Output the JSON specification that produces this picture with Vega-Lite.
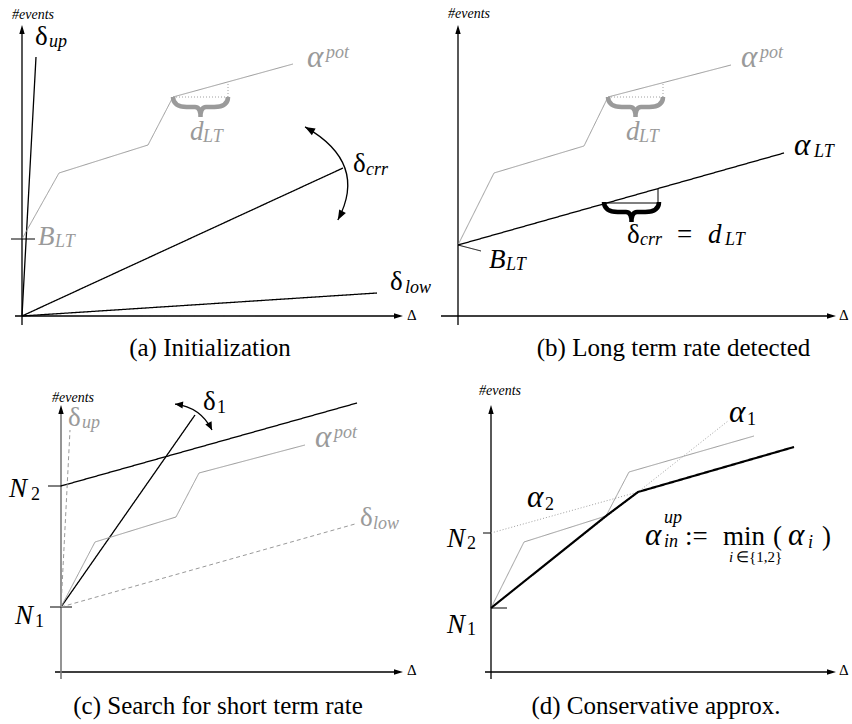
{
"$schema": "https://vega.github.io/schema/vega-lite/v6.json",
"background": "white",
"padding": 0,
"spacing": 0,
"columns": 2,
"bounds": "flush",
"config": {"view": {"stroke": null}, "concat": {"spacing": 0}, "text": {"font": "Liberation Serif"}, "point": {"opacity": 1}},
"datasets": {
"lines": [
{"p":"a","id":"xa","o":0,"x":-7,"y":0,"k":"k"},{"p":"a","id":"xa","o":1,"x":378,"y":0,"k":"k"},
{"p":"a","id":"ya","o":0,"x":0,"y":-9,"k":"k"},{"p":"a","id":"ya","o":1,"x":0,"y":288,"k":"k"},
{"p":"a","id":"up","o":0,"x":0,"y":0,"k":"k"},{"p":"a","id":"up","o":1,"x":14,"y":259,"k":"k"},
{"p":"a","id":"crr","o":0,"x":0,"y":0,"k":"k"},{"p":"a","id":"crr","o":1,"x":321,"y":148,"k":"k"},
{"p":"a","id":"low","o":0,"x":0,"y":0,"k":"k"},{"p":"a","id":"low","o":1,"x":355,"y":23,"k":"k"},
{"p":"a","id":"pot","o":0,"x":0,"y":77,"k":"g"},{"p":"a","id":"pot","o":1,"x":37,"y":143,"k":"g"},{"p":"a","id":"pot","o":2,"x":126,"y":171,"k":"g"},{"p":"a","id":"pot","o":3,"x":151,"y":219,"k":"g"},{"p":"a","id":"pot","o":4,"x":271,"y":252,"k":"g"},
{"p":"a","id":"blt","o":0,"x":-11,"y":77,"k":"ks"},{"p":"a","id":"blt","o":1,"x":13,"y":77,"k":"ks"},
{"p":"a","id":"dh","o":0,"x":151,"y":219,"k":"gt"},{"p":"a","id":"dh","o":1,"x":206,"y":219,"k":"gt"},
{"p":"a","id":"dv","o":0,"x":206,"y":219,"k":"gt"},{"p":"a","id":"dv","o":1,"x":206,"y":234,"k":"gt"},

{"p":"b","id":"xb","o":0,"x":-17,"y":0,"k":"k"},{"p":"b","id":"xb","o":1,"x":375,"y":0,"k":"k"},
{"p":"b","id":"yb","o":0,"x":0,"y":-9,"k":"k"},{"p":"b","id":"yb","o":1,"x":0,"y":288,"k":"k"},
{"p":"b","id":"pot","o":0,"x":0,"y":71,"k":"g"},{"p":"b","id":"pot","o":1,"x":36,"y":143,"k":"g"},{"p":"b","id":"pot","o":2,"x":126,"y":170,"k":"g"},{"p":"b","id":"pot","o":3,"x":150,"y":219,"k":"g"},{"p":"b","id":"pot","o":4,"x":273,"y":251,"k":"g"},
{"p":"b","id":"alt","o":0,"x":0,"y":71,"k":"k"},{"p":"b","id":"alt","o":1,"x":326,"y":163,"k":"k"},
{"p":"b","id":"blt","o":0,"x":0,"y":71,"k":"ks"},{"p":"b","id":"blt","o":1,"x":23,"y":65,"k":"ks"},
{"p":"b","id":"dh","o":0,"x":150,"y":219,"k":"gt"},{"p":"b","id":"dh","o":1,"x":205,"y":219,"k":"gt"},
{"p":"b","id":"dv","o":0,"x":205,"y":219,"k":"gt"},{"p":"b","id":"dv","o":1,"x":205,"y":233,"k":"gt"},
{"p":"b","id":"bh","o":0,"x":148,"y":113,"k":"ks"},{"p":"b","id":"bh","o":1,"x":200,"y":113,"k":"ks"},
{"p":"b","id":"bv","o":0,"x":200,"y":113,"k":"ks"},{"p":"b","id":"bv","o":1,"x":200,"y":127,"k":"ks"},

{"p":"c","id":"xc","o":0,"x":-6,"y":0,"k":"k"},{"p":"c","id":"xc","o":1,"x":339,"y":0,"k":"k"},
{"p":"c","id":"yc","o":0,"x":0,"y":-7,"k":"ga"},{"p":"c","id":"yc","o":1,"x":0,"y":264,"k":"ga"},
{"p":"c","id":"n1","o":0,"x":-11,"y":65,"k":"ks"},{"p":"c","id":"n1","o":1,"x":11,"y":65,"k":"ks"},
{"p":"c","id":"n2","o":0,"x":-13,"y":186,"k":"ks"},{"p":"c","id":"n2","o":1,"x":0,"y":186,"k":"ks"},
{"p":"c","id":"bl","o":0,"x":0,"y":186,"k":"k"},{"p":"c","id":"bl","o":1,"x":296,"y":269,"k":"k"},
{"p":"c","id":"d1","o":0,"x":0,"y":65,"k":"k"},{"p":"c","id":"d1","o":1,"x":134,"y":257,"k":"k"},
{"p":"c","id":"pot","o":0,"x":0,"y":65,"k":"g"},{"p":"c","id":"pot","o":1,"x":34,"y":130,"k":"g"},{"p":"c","id":"pot","o":2,"x":115,"y":155,"k":"g"},{"p":"c","id":"pot","o":3,"x":138,"y":199,"k":"g"},{"p":"c","id":"pot","o":4,"x":244,"y":227,"k":"g"},
{"p":"c","id":"dup","o":0,"x":0,"y":65,"k":"gd"},{"p":"c","id":"dup","o":1,"x":9,"y":242,"k":"gd"},
{"p":"c","id":"dlow","o":0,"x":0,"y":65,"k":"gd"},{"p":"c","id":"dlow","o":1,"x":294,"y":148,"k":"gd"},

{"p":"d","id":"xd","o":0,"x":-6,"y":0,"k":"k"},{"p":"d","id":"xd","o":1,"x":342,"y":0,"k":"k"},
{"p":"d","id":"yd","o":0,"x":0,"y":-7,"k":"k"},{"p":"d","id":"yd","o":1,"x":0,"y":264,"k":"k"},
{"p":"d","id":"n2","o":0,"x":-8,"y":139,"k":"ks"},{"p":"d","id":"n2","o":1,"x":0,"y":139,"k":"ks"},
{"p":"d","id":"n1","o":0,"x":0,"y":64,"k":"ks"},{"p":"d","id":"n1","o":1,"x":16,"y":64,"k":"ks"},
{"p":"d","id":"a1","o":0,"x":0,"y":64,"k":"gt"},{"p":"d","id":"a1","o":1,"x":237,"y":251,"k":"gt"},
{"p":"d","id":"a2","o":0,"x":0,"y":139,"k":"gt"},{"p":"d","id":"a2","o":1,"x":147,"y":180,"k":"gt"},
{"p":"d","id":"pot","o":0,"x":0,"y":64,"k":"g"},{"p":"d","id":"pot","o":1,"x":33,"y":130,"k":"g"},{"p":"d","id":"pot","o":2,"x":115,"y":156,"k":"g"},{"p":"d","id":"pot","o":3,"x":138,"y":200,"k":"g"},{"p":"d","id":"pot","o":4,"x":263,"y":236,"k":"g"},
{"p":"d","id":"min","o":0,"x":0,"y":64,"k":"kt"},{"p":"d","id":"min","o":1,"x":115,"y":156,"k":"kt"},{"p":"d","id":"min","o":2,"x":147,"y":180,"k":"kt"},{"p":"d","id":"min","o":3,"x":303,"y":225,"k":"kt"}
],
"marks": [
{"p":"a","s":"ax","x":381,"y":0},{"p":"a","s":"ay","x":0,"y":291},
{"p":"b","s":"ax","x":378,"y":0},{"p":"b","s":"ay","x":0,"y":291},
{"p":"c","s":"ax","x":342,"y":0},{"p":"c","s":"ay","x":0,"y":267},
{"p":"d","s":"ax","x":345,"y":0},{"p":"d","s":"ay","x":0,"y":267},
{"p":"a","s":"brace","k":"g","x":178.5,"y":209},
{"p":"b","s":"brace","k":"g","x":177.5,"y":209},
{"p":"b","s":"brace","k":"k","x":173.5,"y":104},
{"p":"a","s":"arc","x":303,"y":143},
{"p":"c","s":"arc","x":132.5,"y":255}
],
"texts": [
{"p":"a","x":-10,"y":297,"t":"#events","r":"E","k":"k","f":"i"},
{"p":"a","x":13,"y":271,"t":"δ","r":"M","k":"k","f":"u"},{"p":"a","x":27,"y":269,"t":"up","r":"S","k":"k","f":"i"},
{"p":"a","x":285,"y":249,"t":"α","r":"A","k":"g","f":"i"},{"p":"a","x":304,"y":258,"t":"pot","r":"S","k":"g","f":"i"},
{"p":"a","x":168,"y":176,"t":"d","r":"M","k":"g","f":"i"},{"p":"a","x":181,"y":174,"t":"LT","r":"S","k":"g","f":"i"},
{"p":"a","x":331,"y":144,"t":"δ","r":"M","k":"k","f":"u"},{"p":"a","x":344,"y":141,"t":"crr","r":"S","k":"k","f":"i"},
{"p":"a","x":368,"y":26,"t":"δ","r":"M","k":"k","f":"u"},{"p":"a","x":383,"y":23,"t":"low","r":"S","k":"k","f":"i"},
{"p":"a","x":16,"y":71,"t":"B","r":"M","k":"g","f":"i"},{"p":"a","x":33,"y":69,"t":"LT","r":"S","k":"g","f":"i"},
{"p":"a","x":385,"y":-4,"t":"Δ","r":"D","k":"k","f":"u"},
{"p":"a","x":188,"y":-40,"t":"(a)  Initialization","r":"C","k":"k","f":"c"},

{"p":"b","x":-10,"y":298,"t":"#events","r":"E","k":"k","f":"i"},
{"p":"b","x":283,"y":249,"t":"α","r":"A","k":"g","f":"i"},{"p":"b","x":302,"y":258,"t":"pot","r":"S","k":"g","f":"i"},
{"p":"b","x":168,"y":176,"t":"d","r":"M","k":"g","f":"i"},{"p":"b","x":181,"y":174,"t":"LT","r":"S","k":"g","f":"i"},
{"p":"b","x":336,"y":161,"t":"α","r":"A","k":"k","f":"i"},{"p":"b","x":356,"y":159,"t":"LT","r":"S","k":"k","f":"i"},
{"p":"b","x":31,"y":48,"t":"B","r":"M","k":"k","f":"i"},{"p":"b","x":48,"y":46,"t":"LT","r":"S","k":"k","f":"i"},
{"p":"b","x":169,"y":73,"t":"δ","r":"M","k":"k","f":"u"},{"p":"b","x":182,"y":71,"t":"crr","r":"S","k":"k","f":"i"},
{"p":"b","x":219,"y":73,"t":"=","r":"M","k":"k","f":"u"},
{"p":"b","x":250,"y":73,"t":"d","r":"M","k":"k","f":"i"},{"p":"b","x":267,"y":71,"t":"LT","r":"S","k":"k","f":"i"},
{"p":"b","x":381,"y":-4,"t":"Δ","r":"D","k":"k","f":"u"},
{"p":"b","x":215.5,"y":-40,"t":"(b)  Long term rate detected","r":"C","k":"k","f":"c"},

{"p":"c","x":-9,"y":270,"t":"#events","r":"E","k":"k","f":"i"},
{"p":"c","x":7,"y":246,"t":"δ","r":"M","k":"g","f":"u"},{"p":"c","x":21,"y":244,"t":"up","r":"S","k":"g","f":"i"},
{"p":"c","x":142,"y":262,"t":"δ","r":"M","k":"k","f":"u"},{"p":"c","x":156,"y":259,"t":"1","r":"S","k":"k","f":"u"},
{"p":"c","x":254,"y":225,"t":"α","r":"A","k":"g","f":"i"},{"p":"c","x":273,"y":234,"t":"pot","r":"S","k":"g","f":"i"},
{"p":"c","x":299,"y":146,"t":"δ","r":"M","k":"g","f":"u"},{"p":"c","x":312,"y":143,"t":"low","r":"S","k":"g","f":"i"},
{"p":"c","x":-52,"y":175,"t":"N","r":"M","k":"k","f":"i"},{"p":"c","x":-30,"y":172,"t":"2","r":"S","k":"k","f":"u"},
{"p":"c","x":-46,"y":48,"t":"N","r":"M","k":"k","f":"i"},{"p":"c","x":-26,"y":45,"t":"1","r":"S","k":"k","f":"u"},
{"p":"c","x":346,"y":-3,"t":"Δ","r":"D","k":"k","f":"u"},
{"p":"c","x":157,"y":-42,"t":"(c)  Search for short term rate","r":"C","k":"k","f":"c"},

{"p":"d","x":-12,"y":277,"t":"#events","r":"E","k":"k","f":"i"},
{"p":"d","x":238,"y":250,"t":"α","r":"A","k":"k","f":"i"},{"p":"d","x":256,"y":247,"t":"1","r":"S","k":"k","f":"u"},
{"p":"d","x":36,"y":165,"t":"α","r":"A","k":"k","f":"i"},{"p":"d","x":54,"y":162,"t":"2","r":"S","k":"k","f":"u"},
{"p":"d","x":-44,"y":125,"t":"N","r":"M","k":"k","f":"i"},{"p":"d","x":-24,"y":123,"t":"2","r":"S","k":"k","f":"u"},
{"p":"d","x":-44,"y":39,"t":"N","r":"M","k":"k","f":"i"},{"p":"d","x":-24,"y":37,"t":"1","r":"S","k":"k","f":"u"},
{"p":"d","x":154,"y":127,"t":"α","r":"A","k":"k","f":"i"},{"p":"d","x":173,"y":125,"t":"in","r":"S","k":"k","f":"i"},{"p":"d","x":173,"y":149,"t":"up","r":"S","k":"k","f":"i"},
{"p":"d","x":194,"y":127,"t":":=","r":"M","k":"k","f":"u"},
{"p":"d","x":232,"y":127,"t":"min","r":"M","k":"k","f":"u"},
{"p":"d","x":238,"y":110,"t":"i","r":"T","k":"k","f":"i"},{"p":"d","x":245,"y":110,"t":"∈{1,2}","r":"T","k":"k","f":"u"},
{"p":"d","x":282,"y":127,"t":"(","r":"M","k":"k","f":"u"},{"p":"d","x":297,"y":127,"t":"α","r":"A","k":"k","f":"i"},{"p":"d","x":317,"y":124,"t":"i","r":"S","k":"k","f":"i"},{"p":"d","x":331,"y":127,"t":")","r":"M","k":"k","f":"u"},
{"p":"d","x":348,"y":-3,"t":"Δ","r":"D","k":"k","f":"u"},
{"p":"d","x":165,"y":-42,"t":"(d)  Conservative approx.","r":"C","k":"k","f":"c"}
]
},
"concat": [
{"width":426,"height":362,
 "encoding":{"x":{"field":"x","type":"quantitative","scale":{"domain":[-22,404],"nice":false,"zero":false},"axis":null},
             "y":{"field":"y","type":"quantitative","scale":{"domain":[-46,316],"nice":false,"zero":false},"axis":null}},
 "layer":[
  {"data":{"name":"lines"},"transform":[{"filter":"datum.p=='a'"}],"mark":{"type":"line","strokeCap":"butt"},
   "encoding":{"detail":{"field":"id"},"order":{"field":"o","type":"quantitative"},
     "color":{"field":"k","type":"nominal","scale":{"domain":["k","kt","ks","g","gd","gt","ga"],"range":["#000000","#000000","#000000","#9a9a9a","#999999","#a0a0a0","#7a7a7a"]},"legend":null},
     "strokeWidth":{"field":"k","type":"nominal","scale":{"type":"ordinal","domain":["k","kt","ks","g","gd","gt","ga"],"range":[1.3,2.2,1,1,1,1,1.6]},"legend":null},
     "strokeDash":{"field":"k","type":"nominal","scale":{"domain":["k","kt","ks","g","gd","gt","ga"],"range":[[1,0],[1,0],[1,0],[1,0],[4,3],[1,2],[1,0]]},"legend":null}}},
  {"data":{"name":"marks"},"transform":[{"filter":"datum.p=='a' && (datum.s=='ax' || datum.s=='ay')"}],"mark":{"type":"point","filled":true,"color":"#000","opacity":1,"size":324,"strokeWidth":0},
   "encoding":{"shape":{"field":"s","type":"nominal","scale":{"domain":["ax","ay"],"range":["M 0 0 L -1 -0.3 L -1 0.3 Z","M 0 0 L -0.3 1 L 0.3 1 Z"]},"legend":null}}},
  {"data":{"name":"marks"},"transform":[{"filter":"datum.p=='a' && datum.s=='brace'"}],"mark":{"type":"point","filled":false,"opacity":1,"size":3025,"strokeWidth":4.5,"shape":"M -1 -0.36 Q -1 0 -0.5 0 L -0.2 0 Q 0 0 0 0.36 Q 0 0 0.2 0 L 0.5 0 Q 1 0 1 -0.36"},
   "encoding":{"color":{"field":"k","type":"nominal","scale":{"domain":["k","kt","ks","g","gd","gt","ga"],"range":["#000000","#000000","#000000","#9a9a9a","#999999","#a0a0a0","#7a7a7a"]},"legend":null}}},
  {"data":{"name":"marks"},"transform":[{"filter":"datum.p=='a' && datum.s=='arc'"}],"mark":{"type":"point","filled":false,"color":"#000","opacity":1,"size":9025,"strokeWidth":1.3,"shape":"M -0.42 -0.97 Q 0.915 -0.21 0.27 0.99"}},
  {"data":{"name":"marks"},"transform":[{"filter":"datum.p=='a' && datum.s=='arc'"}],"mark":{"type":"point","filled":true,"color":"#000","opacity":1,"size":9025,"strokeWidth":0,"shape":"M -0.42 -0.97 L -0.198 -0.937 L -0.276 -0.797 Z M 0.27 0.99 L 0.44 0.843 L 0.299 0.767 Z"}},
  {"data":{"name":"texts"},"transform":[{"filter":"datum.p=='a' && datum.f=='u'"}],"mark":{"type":"text","align":"left","baseline":"alphabetic","font":"Liberation Serif"},
   "encoding":{"text":{"field":"t"},"size":{"field":"r","type":"nominal","scale":{"type":"ordinal","domain":["M","A","S","E","D","T"],"range":[27,31,18,14,15,15]},"legend":null},
     "color":{"field":"k","type":"nominal","scale":{"domain":["k","kt","ks","g","gd","gt","ga"],"range":["#000000","#000000","#000000","#9a9a9a","#999999","#a0a0a0","#7a7a7a"]},"legend":null}}},
  {"data":{"name":"texts"},"transform":[{"filter":"datum.p=='a' && datum.f=='i'"}],"mark":{"type":"text","align":"left","baseline":"alphabetic","font":"Liberation Serif","fontStyle":"italic"},
   "encoding":{"text":{"field":"t"},"size":{"field":"r","type":"nominal","scale":{"type":"ordinal","domain":["M","A","S","E","D","T"],"range":[27,31,18,14,15,15]},"legend":null},
     "color":{"field":"k","type":"nominal","scale":{"domain":["k","kt","ks","g","gd","gt","ga"],"range":["#000000","#000000","#000000","#9a9a9a","#999999","#a0a0a0","#7a7a7a"]},"legend":null}}},
  {"data":{"name":"texts"},"transform":[{"filter":"datum.p=='a' && datum.f=='c'"}],"mark":{"type":"text","align":"center","baseline":"alphabetic","font":"Liberation Serif","fontSize":25,"color":"#000"},
   "encoding":{"text":{"field":"t"}}}
 ]},
{"width":426,"height":362,
 "encoding":{"x":{"field":"x","type":"quantitative","scale":{"domain":[-32,394],"nice":false,"zero":false},"axis":null},
             "y":{"field":"y","type":"quantitative","scale":{"domain":[-46,316],"nice":false,"zero":false},"axis":null}},
 "layer":[
  {"data":{"name":"lines"},"transform":[{"filter":"datum.p=='b'"}],"mark":{"type":"line","strokeCap":"butt"},
   "encoding":{"detail":{"field":"id"},"order":{"field":"o","type":"quantitative"},
     "color":{"field":"k","type":"nominal","scale":{"domain":["k","kt","ks","g","gd","gt","ga"],"range":["#000000","#000000","#000000","#9a9a9a","#999999","#a0a0a0","#7a7a7a"]},"legend":null},
     "strokeWidth":{"field":"k","type":"nominal","scale":{"type":"ordinal","domain":["k","kt","ks","g","gd","gt","ga"],"range":[1.3,2.2,1,1,1,1,1.6]},"legend":null},
     "strokeDash":{"field":"k","type":"nominal","scale":{"domain":["k","kt","ks","g","gd","gt","ga"],"range":[[1,0],[1,0],[1,0],[1,0],[4,3],[1,2],[1,0]]},"legend":null}}},
  {"data":{"name":"marks"},"transform":[{"filter":"datum.p=='b' && (datum.s=='ax' || datum.s=='ay')"}],"mark":{"type":"point","filled":true,"color":"#000","opacity":1,"size":324,"strokeWidth":0},
   "encoding":{"shape":{"field":"s","type":"nominal","scale":{"domain":["ax","ay"],"range":["M 0 0 L -1 -0.3 L -1 0.3 Z","M 0 0 L -0.3 1 L 0.3 1 Z"]},"legend":null}}},
  {"data":{"name":"marks"},"transform":[{"filter":"datum.p=='b' && datum.s=='brace'"}],"mark":{"type":"point","filled":false,"opacity":1,"size":3025,"strokeWidth":4.5,"shape":"M -1 -0.36 Q -1 0 -0.5 0 L -0.2 0 Q 0 0 0 0.36 Q 0 0 0.2 0 L 0.5 0 Q 1 0 1 -0.36"},
   "encoding":{"color":{"field":"k","type":"nominal","scale":{"domain":["k","kt","ks","g","gd","gt","ga"],"range":["#000000","#000000","#000000","#9a9a9a","#999999","#a0a0a0","#7a7a7a"]},"legend":null}}},
  {"data":{"name":"texts"},"transform":[{"filter":"datum.p=='b' && datum.f=='u'"}],"mark":{"type":"text","align":"left","baseline":"alphabetic","font":"Liberation Serif"},
   "encoding":{"text":{"field":"t"},"size":{"field":"r","type":"nominal","scale":{"type":"ordinal","domain":["M","A","S","E","D","T"],"range":[27,31,18,14,15,15]},"legend":null},
     "color":{"field":"k","type":"nominal","scale":{"domain":["k","kt","ks","g","gd","gt","ga"],"range":["#000000","#000000","#000000","#9a9a9a","#999999","#a0a0a0","#7a7a7a"]},"legend":null}}},
  {"data":{"name":"texts"},"transform":[{"filter":"datum.p=='b' && datum.f=='i'"}],"mark":{"type":"text","align":"left","baseline":"alphabetic","font":"Liberation Serif","fontStyle":"italic"},
   "encoding":{"text":{"field":"t"},"size":{"field":"r","type":"nominal","scale":{"type":"ordinal","domain":["M","A","S","E","D","T"],"range":[27,31,18,14,15,15]},"legend":null},
     "color":{"field":"k","type":"nominal","scale":{"domain":["k","kt","ks","g","gd","gt","ga"],"range":["#000000","#000000","#000000","#9a9a9a","#999999","#a0a0a0","#7a7a7a"]},"legend":null}}},
  {"data":{"name":"texts"},"transform":[{"filter":"datum.p=='b' && datum.f=='c'"}],"mark":{"type":"text","align":"center","baseline":"alphabetic","font":"Liberation Serif","fontSize":25,"color":"#000"},
   "encoding":{"text":{"field":"t"}}}
 ]},
{"width":426,"height":362,
 "encoding":{"x":{"field":"x","type":"quantitative","scale":{"domain":[-61,365],"nice":false,"zero":false},"axis":null},
             "y":{"field":"y","type":"quantitative","scale":{"domain":[-52,310],"nice":false,"zero":false},"axis":null}},
 "layer":[
  {"data":{"name":"lines"},"transform":[{"filter":"datum.p=='c'"}],"mark":{"type":"line","strokeCap":"butt"},
   "encoding":{"detail":{"field":"id"},"order":{"field":"o","type":"quantitative"},
     "color":{"field":"k","type":"nominal","scale":{"domain":["k","kt","ks","g","gd","gt","ga"],"range":["#000000","#000000","#000000","#9a9a9a","#999999","#a0a0a0","#7a7a7a"]},"legend":null},
     "strokeWidth":{"field":"k","type":"nominal","scale":{"type":"ordinal","domain":["k","kt","ks","g","gd","gt","ga"],"range":[1.3,2.2,1,1,1,1,1.6]},"legend":null},
     "strokeDash":{"field":"k","type":"nominal","scale":{"domain":["k","kt","ks","g","gd","gt","ga"],"range":[[1,0],[1,0],[1,0],[1,0],[4,3],[1,2],[1,0]]},"legend":null}}},
  {"data":{"name":"marks"},"transform":[{"filter":"datum.p=='c' && (datum.s=='ax' || datum.s=='ay')"}],"mark":{"type":"point","filled":true,"color":"#000","opacity":1,"size":324,"strokeWidth":0},
   "encoding":{"shape":{"field":"s","type":"nominal","scale":{"domain":["ax","ay"],"range":["M 0 0 L -1 -0.3 L -1 0.3 Z","M 0 0 L -0.3 1 L 0.3 1 Z"]},"legend":null}}},
  {"data":{"name":"marks"},"transform":[{"filter":"datum.p=='c' && datum.s=='arc'"}],"mark":{"type":"point","filled":false,"color":"#000","opacity":1,"size":1369,"strokeWidth":1.3,"shape":"M -1 -0.7 Q 0.38 -0.54 1 0.7"}},
  {"data":{"name":"marks"},"transform":[{"filter":"datum.p=='c' && datum.s=='arc'"}],"mark":{"type":"point","filled":true,"color":"#000","opacity":1,"size":1369,"strokeWidth":0,"shape":"M -1 -0.7 L -0.551 -0.84 L -0.595 -0.462 Z M 1 0.7 L 0.978 0.23 L 0.638 0.4 Z"}},
  {"data":{"name":"texts"},"transform":[{"filter":"datum.p=='c' && datum.f=='u'"}],"mark":{"type":"text","align":"left","baseline":"alphabetic","font":"Liberation Serif"},
   "encoding":{"text":{"field":"t"},"size":{"field":"r","type":"nominal","scale":{"type":"ordinal","domain":["M","A","S","E","D","T"],"range":[27,31,18,14,15,15]},"legend":null},
     "color":{"field":"k","type":"nominal","scale":{"domain":["k","kt","ks","g","gd","gt","ga"],"range":["#000000","#000000","#000000","#9a9a9a","#999999","#a0a0a0","#7a7a7a"]},"legend":null}}},
  {"data":{"name":"texts"},"transform":[{"filter":"datum.p=='c' && datum.f=='i'"}],"mark":{"type":"text","align":"left","baseline":"alphabetic","font":"Liberation Serif","fontStyle":"italic"},
   "encoding":{"text":{"field":"t"},"size":{"field":"r","type":"nominal","scale":{"type":"ordinal","domain":["M","A","S","E","D","T"],"range":[27,31,18,14,15,15]},"legend":null},
     "color":{"field":"k","type":"nominal","scale":{"domain":["k","kt","ks","g","gd","gt","ga"],"range":["#000000","#000000","#000000","#9a9a9a","#999999","#a0a0a0","#7a7a7a"]},"legend":null}}},
  {"data":{"name":"texts"},"transform":[{"filter":"datum.p=='c' && datum.f=='c'"}],"mark":{"type":"text","align":"center","baseline":"alphabetic","font":"Liberation Serif","fontSize":25,"color":"#000"},
   "encoding":{"text":{"field":"t"}}}
 ]},
{"width":426,"height":362,
 "encoding":{"x":{"field":"x","type":"quantitative","scale":{"domain":[-65,361],"nice":false,"zero":false},"axis":null},
             "y":{"field":"y","type":"quantitative","scale":{"domain":[-52,310],"nice":false,"zero":false},"axis":null}},
 "layer":[
  {"data":{"name":"lines"},"transform":[{"filter":"datum.p=='d'"}],"mark":{"type":"line","strokeCap":"butt"},
   "encoding":{"detail":{"field":"id"},"order":{"field":"o","type":"quantitative"},
     "color":{"field":"k","type":"nominal","scale":{"domain":["k","kt","ks","g","gd","gt","ga"],"range":["#000000","#000000","#000000","#9a9a9a","#999999","#a0a0a0","#7a7a7a"]},"legend":null},
     "strokeWidth":{"field":"k","type":"nominal","scale":{"type":"ordinal","domain":["k","kt","ks","g","gd","gt","ga"],"range":[1.3,2.2,1,1,1,1,1.6]},"legend":null},
     "strokeDash":{"field":"k","type":"nominal","scale":{"domain":["k","kt","ks","g","gd","gt","ga"],"range":[[1,0],[1,0],[1,0],[1,0],[4,3],[1,2],[1,0]]},"legend":null}}},
  {"data":{"name":"marks"},"transform":[{"filter":"datum.p=='d' && (datum.s=='ax' || datum.s=='ay')"}],"mark":{"type":"point","filled":true,"color":"#000","opacity":1,"size":324,"strokeWidth":0},
   "encoding":{"shape":{"field":"s","type":"nominal","scale":{"domain":["ax","ay"],"range":["M 0 0 L -1 -0.3 L -1 0.3 Z","M 0 0 L -0.3 1 L 0.3 1 Z"]},"legend":null}}},
  {"data":{"name":"texts"},"transform":[{"filter":"datum.p=='d' && datum.f=='u'"}],"mark":{"type":"text","align":"left","baseline":"alphabetic","font":"Liberation Serif"},
   "encoding":{"text":{"field":"t"},"size":{"field":"r","type":"nominal","scale":{"type":"ordinal","domain":["M","A","S","E","D","T"],"range":[27,31,18,14,15,15]},"legend":null},
     "color":{"field":"k","type":"nominal","scale":{"domain":["k","kt","ks","g","gd","gt","ga"],"range":["#000000","#000000","#000000","#9a9a9a","#999999","#a0a0a0","#7a7a7a"]},"legend":null}}},
  {"data":{"name":"texts"},"transform":[{"filter":"datum.p=='d' && datum.f=='i'"}],"mark":{"type":"text","align":"left","baseline":"alphabetic","font":"Liberation Serif","fontStyle":"italic"},
   "encoding":{"text":{"field":"t"},"size":{"field":"r","type":"nominal","scale":{"type":"ordinal","domain":["M","A","S","E","D","T"],"range":[27,31,18,14,15,15]},"legend":null},
     "color":{"field":"k","type":"nominal","scale":{"domain":["k","kt","ks","g","gd","gt","ga"],"range":["#000000","#000000","#000000","#9a9a9a","#999999","#a0a0a0","#7a7a7a"]},"legend":null}}},
  {"data":{"name":"texts"},"transform":[{"filter":"datum.p=='d' && datum.f=='c'"}],"mark":{"type":"text","align":"center","baseline":"alphabetic","font":"Liberation Serif","fontSize":25,"color":"#000"},
   "encoding":{"text":{"field":"t"}}}
 ]}
]
}
